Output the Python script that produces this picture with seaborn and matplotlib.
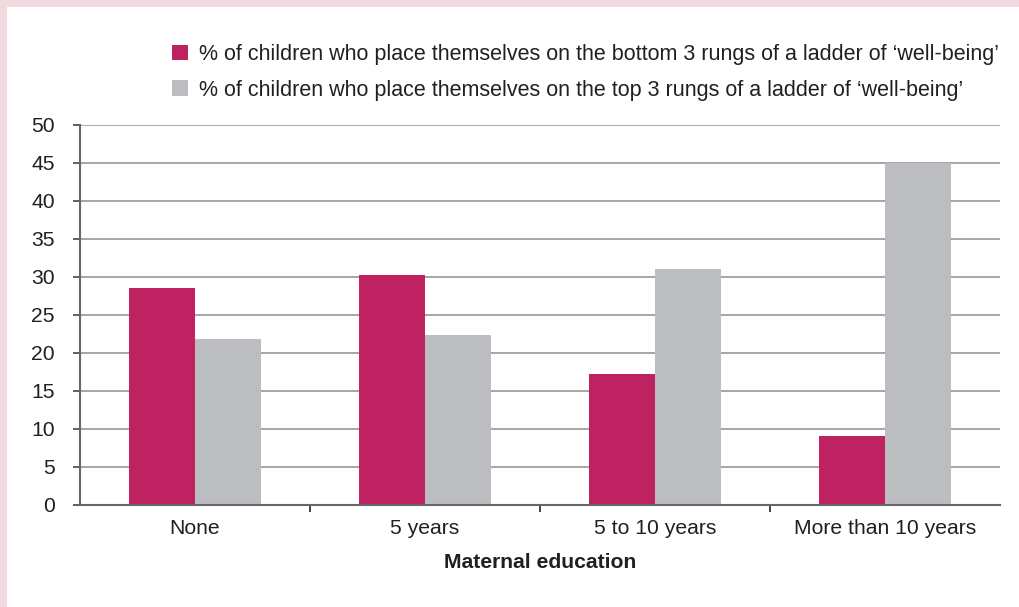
import matplotlib
matplotlib.use("Agg")
import matplotlib.pyplot as plt
from matplotlib.patches import Rectangle
import seaborn as sns
import pandas as pd

categories = ["None", "5 years", "5 to 10 years", "More than 10 years"]
series_names = [
    "% of children who place themselves on the bottom 3 rungs of a ladder of \u2018well-being\u2019",
    "% of children who place themselves on the top 3 rungs of a ladder of \u2018well-being\u2019",
]
bottom_vals = [28.5, 30.2, 17.2, 9.1]
top_vals = [21.8, 22.4, 31.0, 45.0]
yticks = [0, 5, 10, 15, 20, 25, 30, 35, 40, 45, 50]
xlabel = "Maternal education"

colors = ["#BE2260", "#BCBDC1"]
text_color = "#231F20"
border_color = "#F2D9DE"
fs = 15.2
legend_fs = 15.5

df = pd.DataFrame({
    "cat": categories * 2,
    "val": bottom_vals + top_vals,
    "series": [series_names[0]] * 4 + [series_names[1]] * 4,
})

sns.set_theme(style="white")
plt.rcParams["font.family"] = ["Liberation Sans", "DejaVu Sans"]

W, H = 1020, 607
fig = plt.figure(figsize=(W / 100, H / 100), dpi=100)
fig.patch.set_facecolor("white")
# pink frame strips (top and left)
fig.patches.append(Rectangle((0, 1 - 7 / H), 1, 7 / H, transform=fig.transFigure,
                             facecolor=border_color, edgecolor="none"))
fig.patches.append(Rectangle((0, 0), 7 / W, 1, transform=fig.transFigure,
                             facecolor=border_color, edgecolor="none"))

ax = fig.add_axes([80 / W, 1 - 505 / H, 920 / W, (505 - 125) / H])
ax.set_facecolor("none")
sns.barplot(data=df, x="cat", y="val", hue="series", order=categories,
            hue_order=series_names, palette=colors, width=0.574, gap=0,
            saturation=1, ax=ax, legend=True, edgecolor="none", linewidth=0)

ax.set_xlim(-0.5, 3.5)
ax.set_ylim(0, 50)
ax.set_yticks(yticks)
ax.yaxis.grid(True, color="#A6A6A6", linewidth=1.4)
ax.set_axisbelow(True)
for s in ["top", "right"]:
    ax.spines[s].set_visible(False)
for s in ["left", "bottom"]:
    ax.spines[s].set_color("#666666")
    ax.spines[s].set_linewidth(1.5)
ax.tick_params(axis="y", which="major", left=True, length=5, width=1.2,
               color="#444444", labelsize=fs, labelcolor=text_color, pad=13)
ax.tick_params(axis="x", which="major", bottom=False, length=0,
               labelsize=fs, labelcolor=text_color, pad=10)
ax.set_xticks([0.5, 1.5, 2.5], minor=True)
ax.tick_params(axis="x", which="minor", bottom=True, length=5, width=1.2,
               color="#222222")
ax.set_ylabel("")
ax.set_xlabel(xlabel, fontsize=fs, fontweight="bold", color=text_color, labelpad=11)

handles, labels = ax.get_legend_handles_labels()
ax.legend(handles, labels, loc="upper left", bbox_to_anchor=(172 / W, 1 - 44 / H),
          bbox_transform=fig.transFigure, frameon=False, fontsize=legend_fs,
          handlelength=0.75, handleheight=0.75, handletextpad=0.52,
          labelspacing=0.68, labelcolor=text_color, borderaxespad=0,
          borderpad=0)

fig.savefig("out.png", dpi=100, facecolor=fig.get_facecolor())
